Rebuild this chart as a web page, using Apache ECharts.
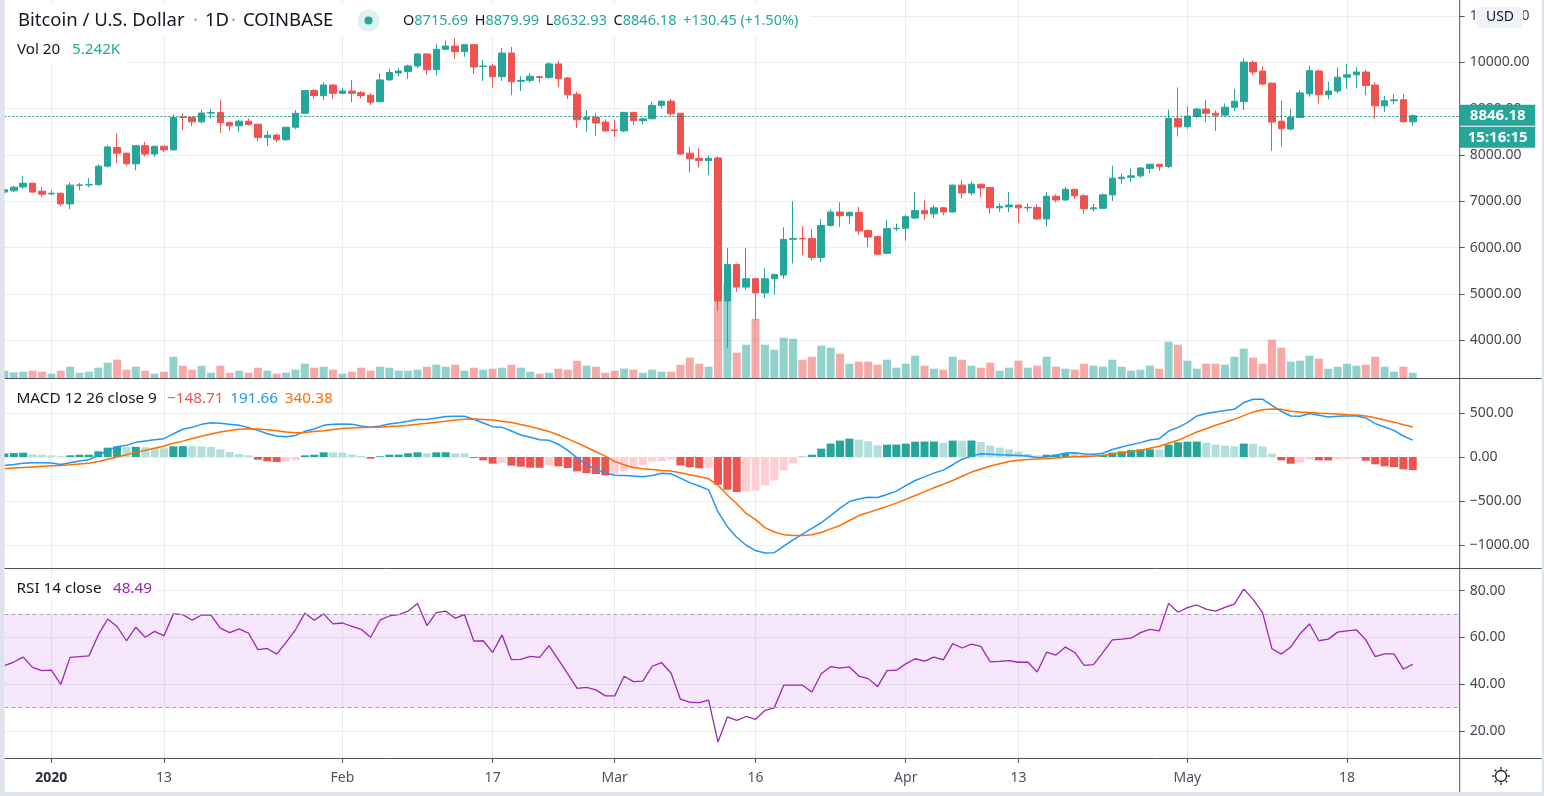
<!DOCTYPE html>
<html><head><meta charset="utf-8">
<script src="https://cdn.jsdelivr.net/npm/echarts/dist/echarts.min.js"></script>
<style>html,body{margin:0;padding:0;background:#fff;overflow:hidden}#c{width:1544px;height:796px}</style>
</head><body><div id="c"></div>
<script>
const dates = [
'2019-12-27','2019-12-28','2019-12-29','2019-12-30','2019-12-31',
'2020-01-01','2020-01-02','2020-01-03','2020-01-04','2020-01-05','2020-01-06','2020-01-07','2020-01-08','2020-01-09','2020-01-10',
'2020-01-11','2020-01-12','2020-01-13','2020-01-14','2020-01-15','2020-01-16','2020-01-17','2020-01-18','2020-01-19','2020-01-20',
'2020-01-21','2020-01-22','2020-01-23','2020-01-24','2020-01-25','2020-01-26','2020-01-27','2020-01-28','2020-01-29','2020-01-30','2020-01-31',
'2020-02-01','2020-02-02','2020-02-03','2020-02-04','2020-02-05','2020-02-06','2020-02-07','2020-02-08','2020-02-09','2020-02-10',
'2020-02-11','2020-02-12','2020-02-13','2020-02-14','2020-02-15','2020-02-16','2020-02-17','2020-02-18','2020-02-19','2020-02-20',
'2020-02-21','2020-02-22','2020-02-23','2020-02-24','2020-02-25','2020-02-26','2020-02-27','2020-02-28','2020-02-29',
'2020-03-01','2020-03-02','2020-03-03','2020-03-04','2020-03-05','2020-03-06','2020-03-07','2020-03-08','2020-03-09','2020-03-10',
'2020-03-11','2020-03-12','2020-03-13','2020-03-14','2020-03-15','2020-03-16','2020-03-17','2020-03-18','2020-03-19','2020-03-20',
'2020-03-21','2020-03-22','2020-03-23','2020-03-24','2020-03-25','2020-03-26','2020-03-27','2020-03-28','2020-03-29','2020-03-30','2020-03-31',
'2020-04-01','2020-04-02','2020-04-03','2020-04-04','2020-04-05','2020-04-06','2020-04-07','2020-04-08','2020-04-09','2020-04-10',
'2020-04-11','2020-04-12','2020-04-13','2020-04-14','2020-04-15','2020-04-16','2020-04-17','2020-04-18','2020-04-19','2020-04-20',
'2020-04-21','2020-04-22','2020-04-23','2020-04-24','2020-04-25','2020-04-26','2020-04-27','2020-04-28','2020-04-29','2020-04-30',
'2020-05-01','2020-05-02','2020-05-03','2020-05-04','2020-05-05','2020-05-06','2020-05-07','2020-05-08','2020-05-09','2020-05-10',
'2020-05-11','2020-05-12','2020-05-13','2020-05-14','2020-05-15','2020-05-16','2020-05-17','2020-05-18','2020-05-19','2020-05-20',
'2020-05-21','2020-05-22','2020-05-23','2020-05-24','2020-05-25'];

const openP = [7200,7227,7310,7390,7220,
7160,7175,6945,7345,7355,7360,7760,8160,8040,7810,8200,8020,8190,8110,8820,8815,8715,8905,8915,8700,8630,8730,8665,8375,8430,8330,8600,8900,9390,9280,9510,
9330,9380,9345,9290,9150,9620,9770,9800,9920,10180,9840,10280,10350,10230,10380,9910,9920,9690,10200,9590,9610,9690,9670,9965,9660,9310,8770,8810,8710,
8540,8520,8920,8740,8780,9070,9160,8900,8040,7930,7880,7935,4850,5635,5150,5330,5025,5330,5410,6180,6200,6200,5790,6480,6770,6690,6760,6370,6240,5880,6410,
6420,6640,6800,6730,6860,6770,7350,7180,7370,7300,6860,6880,6920,6860,6870,6620,7110,7030,7260,7120,6840,6850,7140,7490,7520,7550,7710,7800,7750,8790,
8610,8830,8990,8900,8860,9030,9150,10000,9810,9550,8730,8560,8810,9320,9810,9300,9380,9680,9730,9790,9510,9060,9170,9190,8715.69];
const closeP = [7250,7306,7390,7200,7155,
7175,6945,7350,7355,7360,7760,8175,8040,7810,8200,8020,8190,8110,8810,8810,8715,8905,8915,8700,8630,8730,8660,8375,8425,8330,8600,8900,9390,9280,9510,9330,
9380,9330,9280,9140,9620,9780,9810,9920,10180,9840,10280,10350,10230,10380,9900,9920,9690,10200,9580,9610,9700,9670,9965,9650,9300,8760,8810,8690,8520,
8530,8920,8740,8780,9070,9160,8890,8020,7920,7880,7930,4850,5635,5150,5330,5025,5330,5420,6180,6200,6190,5790,6480,6770,6690,6760,6360,6230,5860,6410,6420,
6670,6800,6730,6860,6770,7350,7180,7370,7290,6860,6890,6920,6860,6870,6620,7110,7030,7260,7120,6840,6860,7140,7500,7520,7550,7720,7800,7750,8790,8610,
8840,8990,8900,8860,9030,9160,10005,9790,9530,8710,8565,8810,9340,9820,9300,9380,9680,9730,9790,9500,9060,9170,9190,8715.73,8846.18];
const lowP = [7160,7200,7280,7185,7098,
7130,6900,6830,7240,7300,7340,7730,7830,7760,7670,7970,7960,8060,8100,8540,8620,8680,8790,8470,8520,8500,8630,8300,8200,8280,8300,8560,8880,9210,9180,9210,
9310,9140,9220,9080,9130,9600,9700,9640,9870,9730,9720,10260,10070,10120,9750,9600,9450,9600,9290,9380,9560,9560,9650,9470,9210,8580,8500,8410,8500,
8390,8490,8650,8660,8780,9000,8840,8000,7620,7730,7570,4635,3843,5050,5090,4430,4920,4990,5330,5660,5840,5730,5690,6460,6450,6510,6280,6010,5860,5860,6360,
6150,6620,6600,6640,6700,6760,7060,7130,7090,6730,6770,6770,6540,6780,6600,6460,6980,7010,7050,6730,6780,6830,7010,7380,7420,7510,7610,7660,7720,8400,
8560,8790,8710,8520,8840,8950,8970,9720,9510,8091,8180,8530,8800,9260,9110,9200,9330,9430,9440,9290,8780,8930,9090,8700,8632.93];
const highP = [7270,7340,7550,7400,7306,
7240,7190,7410,7400,7500,7800,8210,8465,8040,8200,8285,8190,8190,8880,8900,8815,8980,8990,9190,8720,8760,8790,8670,8520,8460,8600,8970,9400,9420,9570,9520,
9450,9620,9380,9330,9760,9860,9880,9950,10200,10200,10400,10470,10520,10390,10380,10050,9970,10310,10330,9700,9770,9710,10000,10030,9680,9370,8970,8900,8770,
8760,8930,8920,8800,9150,9180,9210,8900,8180,8150,7990,7970,5990,5660,5990,5350,5560,5440,6440,7004,6460,6400,6620,6830,6980,6790,6880,6400,6260,6600,6520,
6710,7200,7020,6920,6880,7360,7460,7430,7370,7300,6960,7200,6920,6960,6940,7200,7150,7310,7270,7160,6950,7170,7770,7600,7710,7740,7800,7800,8980,9460,
9050,9020,9190,8960,9110,9420,10090,10040,9910,9570,9170,8990,9400,9930,9840,9580,9890,9960,9890,9840,9570,9270,9310,9310,8879.99];
const volumeK = [7.3,5.7,6.3,7.3,6.3,
4.3,7.3,11.3,5.3,6.3,10.3,15.3,18.3,8.3,11.3,7.3,4.3,6.3,21.3,12.3,8.3,12.3,5.3,12.3,5.3,7.3,5.3,10.3,7.3,4.3,5.3,8.3,14.3,10.3,11.3,8.3,
4.3,6.3,10.3,7.3,11.3,10.3,7.3,7.3,8.3,11.3,13.3,11.3,13.3,7.3,10.3,8.3,9.3,10.3,13.3,10.3,6.3,4.3,5.3,9.3,8.3,17.3,12.3,11.3,5.3,
7.3,9.3,8.3,5.3,8.3,6.3,6.3,13.3,20.3,14.3,11.3,83.3,94.3,25.3,33.3,59.3,33.3,28.3,40.3,39.3,18.3,21.3,32.3,30.3,24.3,14.3,16.3,16.3,13.3,18.3,10.3,
14.3,22.3,12.3,9.3,8.3,21.3,18.3,12.3,10.3,15.3,7.3,10.3,17.3,10.3,12.3,21.3,11.3,9.3,8.3,14.3,12.3,11.3,18.3,11.3,7.3,8.3,12.3,9.3,36.3,33.3,
17.3,9.3,14.3,14.3,13.3,21.3,29.3,20.3,14.3,38.3,30.3,16.3,17.3,22.3,19.3,9.3,11.3,14.3,12.3,13.3,21.3,11.3,6.3,11.3,5.242];
const macdLine = [-95,-84,-72,-65,-65,-69,-84,-65,-46,-31,
18,75,117,132,166,181,196,208,264,314,
336,370,389,382,370,359,333,302,264,238,
230,245,291,317,359,370,374,370,351,336,
351,374,389,405,424,424,443,458,462,462,
427,386,344,336,295,249,223,196,189,145,
75,-10,-85,-140,-180,-207,-209,-215,-225,-210,
-185,-190,-240,-290,-328,-372,-620,-790,-910,-1000,
-1060,-1088,-1085,-1010,-940,-875,-810,-745,-665,-580,
-505,-475,-455,-459,-425,-387,-325,-266,-225,-183,
-149,-88,-25,10,37,32,26,22,18,11,
-8,0,18,45,49,34,30,42,85,113,
140,163,193,208,295,336,389,465,492,511,
526,541,617,655,655,586,518,465,462,492,
473,454,462,465,465,443,378,340,302,238,
191.66];
const signalLine = [-133,-125,-118,-112,-106,-100,-95,-88,-80,-72,
-50,-25,0,25,55,75,100,125,155,180,
210,235,260,283,300,315,320,318,310,298,
283,275,278,288,298,312,322,330,335,336,
338,345,352,360,370,382,393,405,418,428,
431,425,418,405,390,368,345,318,290,250,
205,160,110,60,10,-50,-88,-118,-132,-143,
-152,-160,-178,-200,-222,-247,-320,-430,-530,-640,
-710,-800,-850,-880,-889,-890,-880,-855,-815,-777,
-720,-664,-630,-595,-560,-523,-480,-436,-392,-349,
-308,-266,-218,-171,-137,-103,-76,-50,-38,-27,
-24,-20,-12,-4,2,7,12,18,33,49,
62,75,98,121,155,189,236,283,321,359,
393,427,469,511,535,545,540,518,510,503,
497,492,486,480,475,465,446,420,395,365,
340.38];
const macdHist = [40,45,49,30,26,19,8,19,26,26,
64,106,120,112,115,110,106,100,121,124,
122,121,114,87,57,34,19,-30,-49,-57,
-49,-38,19,26,53,52,50,26,11,-19,
8,26,27,42,53,42,53,54,42,40,
-11,-38,-76,-64,-98,-110,-121,-122,-95,-106,
-125,-163,-182,-193,-208,-193,-163,-133,-87,-49,
-45,-30,-95,-117,-128,-122,-314,-371,-398,-390,
-379,-322,-265,-152,-72,4,26,95,152,186,
208,197,178,133,140,141,152,174,175,176,
163,186,185,187,170,129,106,87,61,34,
19,26,30,42,40,25,19,26,49,64,
80,87,88,85,140,167,174,175,163,140,
129,121,152,150,121,38,-38,-76,-64,-27,
-38,-39,-27,-25,-19,-42,-83,-106,-114,-140,
-148.71];
const rsiLine = [48.0,49.5,51.6,47.2,45.8,46.0,39.9,51.5,51.8,52.1,
61.1,67.9,64.7,58.6,64.4,60.1,62.6,60.7,70.1,69.8,
67.4,69.6,69.6,64.0,62.1,63.7,61.8,54.8,55.3,52.9,
57.9,63.3,70.4,67.4,70.1,65.8,66.2,64.8,63.5,60.1,
67.4,69.2,69.8,71.3,74.5,65.1,70.6,71.3,68.2,69.8,
58.4,58.6,53.6,61.1,50.5,50.6,51.9,51.5,56.5,50.5,
44.4,38.2,38.7,37.6,35.0,35.0,43.4,41.1,41.3,47.7,
49.2,44.8,33.6,32.3,32.1,33.2,15.3,26.0,24.5,26.2,
25.0,28.8,29.9,39.6,39.6,39.6,36.7,44.5,47.5,46.9,
47.4,43.5,42.4,39.0,45.8,46.0,48.7,50.9,49.9,51.6,
50.4,57.4,55.5,57.2,56.2,49.6,49.8,50.1,49.4,49.5,
45.2,53.7,52.5,55.9,53.6,48.1,48.4,53.6,59.0,59.3,
59.7,62.1,63.5,62.8,74.6,70.8,72.8,73.9,72.1,71.3,
72.9,74.3,80.7,76.3,70.6,55.2,52.9,55.9,61.6,65.8,
58.6,59.3,62.3,62.8,63.3,59.0,51.8,53.0,53.0,46.5,
48.49];
const tickDates = ['2020-01-01','2020-01-13','2020-02-01','2020-02-17','2020-03-01','2020-03-16','2020-04-01','2020-04-13','2020-05-01','2020-05-18'];
const tickLabels = ['2020','13','Feb','17','Mar','16','Apr','13','May','18'];
const rsiBand = [30, 70];

// ---------- styling / layout ----------
const UP = '#26a69a', DOWN = '#ef5350';
const VUP = 'rgba(38,166,154,0.5)', VDOWN = 'rgba(239,83,80,0.5)';
const GRIDC = '#e9edf2', FRAME = '#50535e', TXT = '#131722', AXT = '#434651';
const FONT = '"Noto Sans", sans-serif';
const W = 1544, H = 796;
const GL = 4.4, GR = 84.3;
const AXIS_X = W - GR;
const P1 = {top: 0, h: 378}, P2 = {top: 379, h: 189}, P3 = {top: 569, h: 189};
const padCats = ['p1','p2','p3','p4','p5'];
const cats = dates.concat(padCats);
const tickMap = new Map(tickDates.map((d, k) => [dates.indexOf(d), tickLabels[k]]));
const isTick = (i) => tickMap.has(i);
const last = dates.length - 1;

const candleData = dates.map((d, i) => [openP[i], closeP[i], lowP[i], highP[i]]);
const volData = volumeK.map((v, i) => ({value: v, itemStyle: {color: closeP[i] >= openP[i] ? VUP : VDOWN}}));
const histData = macdHist.map((h, i) => {
  const p = i > 0 ? macdHist[i - 1] : h;
  let c;
  if (h >= 0) c = h >= p ? '#26a69a' : '#b2dfdb';
  else c = h <= p ? '#ef5350' : '#ffcdd2';
  return {value: h, itemStyle: {color: c}};
});

const minus = (v) => (v < 0 ? '\u2212' : '') + Math.abs(v).toFixed(2);

function xAxisFor(g) {
  return {
    type: 'category', gridIndex: g, data: cats, boundaryGap: false,
    axisLine: {show: false},
    axisTick: {show: g === 3, interval: (i) => isTick(i), length: 5, lineStyle: {color: FRAME}},
    axisLabel: {
      show: g === 3, interval: (i) => isTick(i), margin: 13, fontSize: 14, color: '#50535e', fontFamily: FONT,
      formatter: (v, i) => { const t = tickMap.get(i) || ''; return t === '2020' ? '{b|' + t + '}' : t; },
      rich: {b: {fontWeight: 'bold', color: '#2a2e39', fontSize: 14, fontFamily: FONT}}
    },
    splitLine: {show: g !== 0, interval: (i) => isTick(i), lineStyle: {color: GRIDC, width: 1}}
  };
}
function yAxisFor(g, min, max, step, fmt) {
  return {
    type: 'value', gridIndex: g, position: 'right', min: min, max: max,
    minInterval: step, maxInterval: step,
    axisLine: {show: false},
    axisTick: {show: true, length: 5, lineStyle: {color: FRAME}},
    axisLabel: {show: true, margin: 10, fontSize: 14, color: AXT, fontFamily: FONT, formatter: fmt,
                showMinLabel: false, showMaxLabel: false},
    splitLine: {show: true, showMinLine: false, showMaxLine: false, lineStyle: {color: GRIDC, width: 1}}
  };
}

const chart = echarts.init(document.getElementById('c'), null, {renderer: 'canvas', width: W, height: H});
chart.setOption({
  animation: false,
  backgroundColor: '#ffffff',
  grid: [
    {left: GL, right: GR, top: P1.top, height: P1.h},
    {left: GL, right: GR, top: P1.top, height: P1.h},
    {left: GL, right: GR, top: P2.top, height: P2.h},
    {left: GL, right: GR, top: P3.top, height: P3.h}
  ],
  xAxis: [xAxisFor(0), xAxisFor(1), xAxisFor(2), xAxisFor(3)],
  yAxis: [
    yAxisFor(0, 3189, 11344, 1000, (v) => v.toFixed(2)),
    {type: 'value', gridIndex: 1, show: false, min: 0, max: 378, splitLine: {show: false}},
    yAxisFor(2, -1258, 884, 500, minus),
    yAxisFor(3, 8.44, 89.3, 20, (v) => v.toFixed(2))
  ],
  series: [
    {
      type: 'bar', name: 'Vol', xAxisIndex: 1, yAxisIndex: 1, data: volData, barWidth: 8, z: 1, silent: true
    },
    {
      type: 'candlestick', name: 'BTCUSD', xAxisIndex: 0, yAxisIndex: 0, data: candleData, barWidth: 7, z: 3,
      itemStyle: {color: UP, color0: DOWN, borderColor: UP, borderColor0: DOWN, borderWidth: 1},
      markLine: {
        silent: true, symbol: ['none', 'none'], label: {show: false},
        lineStyle: {color: '#1f8a80', type: [2, 2], width: 1},
        data: [{yAxis: closeP[last]}]
      }
    },
    {
      type: 'bar', name: 'Histogram', xAxisIndex: 2, yAxisIndex: 2, data: histData, barWidth: 8, z: 1, silent: true
    },
    {
      type: 'line', name: 'MACD', xAxisIndex: 2, yAxisIndex: 2, data: macdLine, showSymbol: false, z: 3,
      lineStyle: {color: '#2196f3', width: 1.5}, itemStyle: {color: '#2196f3'}
    },
    {
      type: 'line', name: 'Signal', xAxisIndex: 2, yAxisIndex: 2, data: signalLine, showSymbol: false, z: 3,
      lineStyle: {color: '#ff6d00', width: 1.5}, itemStyle: {color: '#ff6d00'}
    },
    {
      type: 'line', name: 'RSI', xAxisIndex: 3, yAxisIndex: 3, data: rsiLine, showSymbol: false, z: 3,
      lineStyle: {color: '#9c27b0', width: 1.3}, itemStyle: {color: '#9c27b0'},
      markArea: {silent: true, itemStyle: {color: 'rgba(180,60,240,0.12)'}, data: [[{yAxis: rsiBand[0]}, {yAxis: rsiBand[1]}]]},
      markLine: {silent: true, symbol: ['none', 'none'], label: {show: false},
        lineStyle: {color: '#a3a6af', type: [4, 3], width: 1},
        data: [{yAxis: rsiBand[1]}, {yAxis: rsiBand[0]}]}
    }
  ]
});

// ---------- overlay texts & frame ----------
const lastPt = chart.convertToPixel({xAxisIndex: 0, yAxisIndex: 0}, [last, closeP[last]]);
const yLast = lastPt[1];
const chg = closeP[last] - closeP[last - 1];
const pct = chg / closeP[last - 1] * 100;
const sgn = (v) => (v >= 0 ? '+' : '\u2212') + Math.abs(v).toFixed(2);
const rf = (c, s, w) => ({fill: c, fontSize: s, fontFamily: FONT, fontWeight: w || 'normal'});

const g = [];
// background boxes behind legends
g.push({type: 'rect', z: 90, shape: {x: 5, y: 4, width: 805, height: 32}, style: {fill: '#ffffff'}});
g.push({type: 'rect', z: 90, shape: {x: 5, y: 38, width: 123, height: 26}, style: {fill: '#ffffff'}});
g.push({type: 'rect', z: 90, shape: {x: 5, y: 578, width: 152, height: 22}, style: {fill: '#ffffff'}});
// header
g.push({type: 'text', z: 100, x: 18, y: 20.5, style: {text: 'Bitcoin / U.S. Dollar', verticalAlign: 'middle', fill: TXT, fontSize: 18.5, fontFamily: FONT}});
g.push({type: 'text', z: 100, x: 193, y: 20.5, style: {text: '\u00b7', verticalAlign: 'middle', fill: '#9598a1', fontSize: 18.5, fontFamily: FONT}});
g.push({type: 'text', z: 100, x: 205, y: 20.5, style: {text: '1D', verticalAlign: 'middle', fill: TXT, fontSize: 18.5, fontFamily: FONT}});
g.push({type: 'text', z: 100, x: 231, y: 20.5, style: {text: '\u00b7', verticalAlign: 'middle', fill: '#9598a1', fontSize: 18.5, fontFamily: FONT}});
g.push({type: 'text', z: 100, x: 243, y: 20.5, style: {text: 'COINBASE', verticalAlign: 'middle', fill: TXT, fontSize: 18.5, fontFamily: FONT}});
g.push({type: 'circle', z: 100, shape: {cx: 368.5, cy: 20.5, r: 11}, style: {fill: '#dff2f0'}});
g.push({type: 'circle', z: 101, shape: {cx: 368.5, cy: 20.5, r: 4}, style: {fill: UP}});
g.push({type: 'text', z: 100, x: 403, y: 20.5, style: {
  text: '{l|O}{v|' + openP[last].toFixed(2) + '}  {l|H}{v|' + highP[last].toFixed(2) + '}  {l|L}{v|' + lowP[last].toFixed(2) +
        '}  {l|C}{v|' + closeP[last].toFixed(2) + '}  {v|' + sgn(chg) + ' (' + sgn(pct) + '%)}',
  verticalAlign: 'middle', rich: {l: rf(TXT, 14.5), v: rf(UP, 14.5)}}});
// volume legend
g.push({type: 'text', z: 100, x: 17, y: 50, style: {text: 'Vol 20', verticalAlign: 'middle', fill: TXT, fontSize: 15.2, fontFamily: FONT}});
g.push({type: 'text', z: 100, x: 72, y: 50, style: {text: volumeK[last].toFixed(3) + 'K', verticalAlign: 'middle', fill: UP, fontSize: 15.2, fontFamily: FONT}});
// MACD legend
g.push({type: 'text', z: 100, x: 16.5, y: 399, style: {text: 'MACD 12 26 close 9', verticalAlign: 'middle', fill: TXT, fontSize: 15.3, fontFamily: FONT}});
g.push({type: 'text', z: 100, x: 167, y: 399, style: {
  text: '{h|' + minus(macdHist[last]) + '}  {m|' + macdLine[last].toFixed(2) + '}  {s|' + signalLine[last].toFixed(2) + '}',
  verticalAlign: 'middle', rich: {h: rf('#ef5350', 15.3), m: rf('#2196f3', 15.3), s: rf('#ff6d00', 15.3)}}});
// RSI legend
g.push({type: 'text', z: 100, x: 16.5, y: 589, style: {text: 'RSI 14 close', verticalAlign: 'middle', fill: TXT, fontSize: 15.3, fontFamily: FONT}});
g.push({type: 'text', z: 100, x: 113, y: 589, style: {text: rsiLine[last].toFixed(2), verticalAlign: 'middle', fill: '#9c27b0', fontSize: 15.3, fontFamily: FONT}});
// frame lines
[P1.top + P1.h + 0.5, P2.top + P2.h + 0.5, P3.top + P3.h + 0.5].forEach((y) => {
  g.push({type: 'line', z: 95, shape: {x1: 0, y1: y, x2: W - 2, y2: y}, style: {stroke: FRAME, lineWidth: 1}});
});
g.push({type: 'line', z: 95, shape: {x1: AXIS_X, y1: 0, x2: AXIS_X, y2: 792}, style: {stroke: FRAME, lineWidth: 1}});
g.push({type: 'rect', z: 96, shape: {x: 0, y: 0, width: 4.6, height: H}, style: {fill: '#e0e3eb'}});
g.push({type: 'rect', z: 96, shape: {x: 0, y: 792, width: W, height: 4}, style: {fill: '#e0e3eb'}});
g.push({type: 'rect', z: 96, shape: {x: W - 2.3, y: 0, width: 2.3, height: H}, style: {fill: '#e0e3eb'}});
// USD box
g.push({type: 'rect', z: 100, shape: {x: 1477, y: 7, width: 46, height: 21, r: 4}, style: {fill: '#f0f3fa'}});
g.push({type: 'text', z: 101, x: 1500, y: 17.5, style: {text: 'USD', align: 'center', verticalAlign: 'middle', fill: TXT, fontSize: 14, fontFamily: FONT}});
// last price label
g.push({type: 'rect', z: 100, shape: {x: AXIS_X, y: yLast - 11, width: 75.5, height: 21}, style: {fill: UP}});
g.push({type: 'text', z: 101, x: AXIS_X + 38, y: yLast - 0.5, style: {text: closeP[last].toFixed(2), align: 'center', verticalAlign: 'middle', fill: '#ffffff', fontSize: 15, fontWeight: 'bold', fontFamily: FONT}});
g.push({type: 'rect', z: 100, shape: {x: AXIS_X, y: yLast + 11, width: 75.5, height: 21}, style: {fill: UP}});
g.push({type: 'text', z: 101, x: AXIS_X + 38, y: yLast + 21.5, style: {text: '15:16:15', align: 'center', verticalAlign: 'middle', fill: '#ffffff', fontSize: 15, fontWeight: 'bold', fontFamily: FONT}});
// settings icon
g.push({type: 'circle', z: 101, shape: {cx: 1501, cy: 776, r: 5.5}, style: {fill: 'none', stroke: TXT, lineWidth: 1.3}});
[0, 45, 90, 135, 180, 225, 270, 315].forEach((a) => {
  const r = a * Math.PI / 180;
  g.push({type: 'line', z: 101, shape: {x1: 1501 + 6.5 * Math.cos(r), y1: 776 + 6.5 * Math.sin(r), x2: 1501 + 9 * Math.cos(r), y2: 776 + 9 * Math.sin(r)},
          style: {stroke: TXT, lineWidth: 1.3}});
});

chart.setOption({graphic: g});
</script>
</body></html>
